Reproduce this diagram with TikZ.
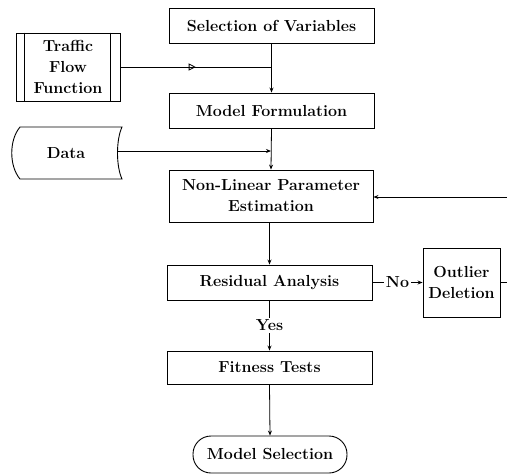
\documentclass[tikz,border=0pt]{standalone}
\usetikzlibrary{arrows.meta,decorations.markings}
\begin{document}
\begin{tikzpicture}[x=1pt,y=-1pt,
  every node/.style={font=\fontsize{16}{21}\selectfont\bfseries, text=black},
  proc/.style={draw, line width=0.9pt, inner sep=0pt, align=center},
  conn/.style={draw, line width=0.8pt, black},
  arr/.style={conn, -{Stealth[length=5pt,width=4pt]}},
  lbl/.style={fill=white, inner sep=1.5pt}
]
\useasboundingbox (0,0) rectangle (507,475);
% process boxes
\node[proc, minimum width=205pt, minimum height=35pt] (sel) at (271.5,25.5) {Selection of Variables};
\node[proc, minimum width=205pt, minimum height=35pt] (mf) at (271.5,110.5) {Model Formulation};
\node[proc, minimum width=204pt, minimum height=52pt] (nlpe) at (271,196) {Non-Linear Parameter\\Estimation};
\node[proc, minimum width=205pt, minimum height=35pt] (ra) at (269.5,282.5) {Residual Analysis};
\node[proc, minimum width=205pt, minimum height=33pt] (ft) at (269.5,367.5) {Fitness Tests};
\node[proc, rounded corners=18pt, minimum width=154pt, minimum height=37pt] (ms) at (270,454.5) {Model Selection};
\node[proc, minimum width=77pt, minimum height=69pt] (od) at (461.5,282.5) {Outlier\\Deletion};
% predefined process
\node[proc, minimum width=104pt, minimum height=68pt] (tff) at (68,67) {Traffic\\Flow\\Function};
\draw[line width=0.9pt] ([xshift=9pt]tff.north west) -- ([xshift=9pt]tff.south west);
\draw[line width=0.9pt] ([xshift=-10pt]tff.north east) -- ([xshift=-10pt]tff.south east);
% stored data
\draw[line width=0.9pt] (20,127) -- (122,127) .. controls (116,140) and (116,166) .. (122,179)
  -- (20,179) .. controls (9,166) and (9,140) .. (20,127) -- cycle;
\node (data) at (66,153) {Data};
\coordinate (datae) at (117,151);
% junctions and loop ends
\coordinate (j1) at (271,67);
\coordinate (j2) at (271,151);
\coordinate (loopout) at (507,282.5);
\coordinate (loopin) at (507,197);
% connectors
\draw[arr] (sel.south) -- (mf.north);
\draw[conn, postaction={decorate}, decoration={markings, mark=at position 0.5 with {\arrow{Triangle[open,length=7pt,width=7pt]}}}] (tff.east |- j1) -- (j1);
\draw[arr] (mf.south) -- (nlpe.north);
\draw[arr] (datae) -- (j2);
\draw[arr] (nlpe.south -| ra.north) -- (ra.north);
\draw[arr] (ra.east) -- node[lbl]{No} (od.west);
\draw[conn] (od.east) -- (loopout);
\draw[arr] (loopin) -- (nlpe.east |- loopin);
\draw[arr] (ra.south) -- node[lbl]{Yes} (ft.north);
\draw[arr] (ft.south) -- (ms.north);
\end{tikzpicture}
\end{document}
